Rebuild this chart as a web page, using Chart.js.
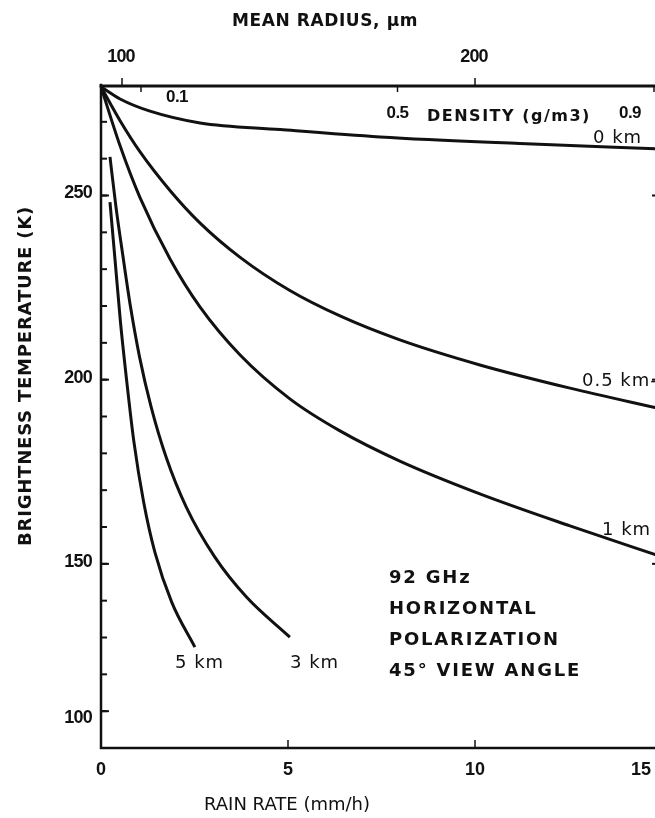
<!DOCTYPE html>
<html>
<head>
<meta charset="utf-8">
<script src="https://cdn.jsdelivr.net/npm/chart.js@4"></script>
<style>
  html, body { margin: 0; padding: 0; background: #fff; }
  #wrap { width: 655px; height: 818px; overflow: hidden; position: relative; }
  #chart { display: block; }
</style>
</head>
<body>
<div id="wrap"><canvas id="chart" width="700" height="818"></canvas></div>
<script>
// Rain rate (mm/h) and brightness temperature (K)
const km0Rain = [0, 0.51, 1.31, 2.65, 4.79, 7.46, 11.2, 15];
const km0Tb   = [279.5, 276.2, 272.9, 269.7, 267.9, 265.9, 264.1, 262.6];

const km05Rain = [0, 0.51, 1.04, 1.85, 2.65, 3.72, 5.05, 6.39, 7.99, 10.13, 12.54, 15];
const km05Tb   = [279.5, 270.3, 261.9, 251.3, 242.5, 233.2, 224.2, 217.3, 210.8, 204.0, 197.7, 192.0];

const km1Rain = [0, 0.51, 1.04, 1.85, 2.65, 3.72, 5.05, 6.39, 7.99, 10.13, 12.54, 15];
const km1Tb   = [279.5, 263.5, 249.5, 232.7, 219.7, 206.7, 194.8, 186.1, 177.9, 169.0, 160.3, 151.9];

const km3Rain = [0.24, 0.40, 0.59, 0.79, 1.03, 1.34, 1.74, 2.28, 3.04, 3.89, 5.05];
const km3Tb   = [260.5, 246.9, 233.3, 219.7, 206.2, 192.6, 179.0, 165.4, 151.9, 141.0, 130.1];

const km5Rain = [0.24, 0.38, 0.52, 0.69, 0.88, 1.14, 1.44, 1.89, 2.51];
const km5Tb   = [248.2, 232.0, 215.7, 199.4, 183.1, 166.8, 153.2, 139.6, 127.4];

// axis ticks
const rainTicks = [0, 5, 10, 15];
const rainTickLabels = ['0', '5', '10', '15'];
const tbTicks = [110, 150, 200, 250];          // the figure prints "100" on this tick
const tbTickLabels = ['100', '150', '200', '250'];
const radiusTicks = [100, 200];
const densityTicks = [0.1, 0.5, 0.9];
const densityTickLabels = ['0.1', '0.5', '0.9'];

function pts(xs, ys) {
    return xs.map((x, i) => ({ x: x, y: ys[i] }));
}

const NUM = '"Liberation Sans", Arial, sans-serif';
const WORD = '"DejaVu Sans", Verdana, sans-serif';
const INK = '#111';

const series = [
    { label: '0 km', data: pts(km0Rain, km0Tb) },
    { label: '0.5 km', data: pts(km05Rain, km05Tb) },
    { label: '1 km', data: pts(km1Rain, km1Tb) },
    { label: '3 km', data: pts(km3Rain, km3Tb) },
    { label: '5 km', data: pts(km5Rain, km5Tb) }
];

function text(ctx, str, x, y, font, align, spacing) {
    ctx.font = font;
    ctx.letterSpacing = (spacing || 0) + 'px';
    ctx.textAlign = align || 'left';
    ctx.textBaseline = 'middle';
    ctx.fillText(str, x, y);
}

// frame, ticks and all the labels of the old figure
const figurePlugin = {
    id: 'figure',
    afterDraw(chart) {
        const ctx = chart.ctx;
        const a = chart.chartArea;
        const x = chart.scales.x, y = chart.scales.y;
        const r = chart.scales.radius, d = chart.scales.density;
        const numFont = 'bold 18px ' + NUM;
        ctx.save();
        ctx.strokeStyle = INK;
        ctx.fillStyle = INK;
        ctx.lineCap = 'square';

        // frame
        ctx.lineWidth = 2.5;
        ctx.beginPath();
        ctx.moveTo(a.left, a.top);
        ctx.lineTo(a.left, a.bottom);
        ctx.lineTo(a.right, a.bottom);
        ctx.lineTo(a.right, a.top);
        ctx.stroke();
        ctx.lineWidth = 3;
        ctx.beginPath();
        ctx.moveTo(a.left, a.top + 1);
        ctx.lineTo(a.right, a.top + 1);
        ctx.stroke();

        // left minor ticks every 10 K, inward
        ctx.lineWidth = 2;
        ctx.lineCap = 'butt';
        for (let v = 110; v < 280; v += 10) {
            const py = y.getPixelForValue(v);
            ctx.beginPath();
            ctx.moveTo(a.left, py);
            ctx.lineTo(a.left + 6, py);
            ctx.stroke();
        }
        // right side ticks
        [150, 200, 250].forEach(v => {
            const py = y.getPixelForValue(v);
            ctx.beginPath();
            ctx.moveTo(a.right, py);
            ctx.lineTo(a.right - 10, py);
            ctx.stroke();
        });
        tbTicks.forEach((v, i) => {
            const py = y.getPixelForValue(v);
            ctx.beginPath();
            ctx.moveTo(a.left, py);
            ctx.lineTo(a.left + 8, py);
            ctx.stroke();
            text(ctx, tbTickLabels[i], a.left - 9, py + (v === 110 ? 7 : -2), numFont, 'right', -0.8);
        });

        // bottom ticks
        ctx.lineWidth = 1.5;
        rainTicks.forEach((v, i) => {
            const px = x.getPixelForValue(v);
            if (v > 0 && v < 15) {
                ctx.beginPath();
                ctx.moveTo(px, a.bottom);
                ctx.lineTo(px, a.bottom - 8);
                ctx.stroke();
            }
            const lx = Math.min(px, 641);
            text(ctx, rainTickLabels[i], lx, a.bottom + 22, numFont, 'center');
        });

        // top: mean radius ticks (up) and density ticks (down)
        radiusTicks.forEach(v => {
            const px = r.getPixelForValue(v);
            ctx.beginPath();
            ctx.moveTo(px, a.top);
            ctx.lineTo(px, a.top - 7);
            ctx.stroke();
            text(ctx, String(v), px - 1, a.top - 28, numFont, 'center', -0.8);
        });
        densityTicks.forEach(v => {
            const px = d.getPixelForValue(v);
            ctx.beginPath();
            ctx.moveTo(px, a.top);
            ctx.lineTo(px, a.top + 7);
            ctx.stroke();
        });
        const p01 = d.getPixelForValue(0.1), p05 = d.getPixelForValue(0.5);
        const densFont = 'bold 17px ' + NUM;
        text(ctx, densityTickLabels[0], p01 + 36, a.top + 12, densFont, 'center', -0.5);
        text(ctx, densityTickLabels[1], p05, a.top + 28, densFont, 'center', -0.5);
        text(ctx, 'DENSITY (g/m3)', 427, a.top + 32, 'bold 16px ' + WORD, 'left', 1.5);
        text(ctx, densityTickLabels[2], 630, a.top + 28, densFont, 'center', -0.5);

        // titles
        text(ctx, 'MEAN RADIUS, \u03bcm', 325, 22, 'bold 17px ' + WORD, 'center', 0.6);
        text(ctx, 'RAIN RATE (mm/h)', 287, 805, '18px ' + WORD, 'center');
        ctx.save();
        ctx.translate(26, 376);
        ctx.rotate(-Math.PI / 2);
        text(ctx, 'BRIGHTNESS TEMPERATURE (K)', 0, 0, 'bold 18px ' + WORD, 'center', 0.8);
        ctx.restore();

        // curve labels
        const kmFont = '18px ' + WORD;
        text(ctx, '0 km', 593, 138, kmFont, 'left', 1);
        text(ctx, '0.5 km-', 582, 381, kmFont, 'left', 1);
        text(ctx, '1 km', 602, 530, kmFont, 'left', 1);
        text(ctx, '5 km', 175, 663, kmFont, 'left', 1);
        text(ctx, '3 km', 290, 663, kmFont, 'left', 1);

        // condition block
        const lines = ['92 GHz', 'HORIZONTAL', 'POLARIZATION', '45\u00b0 VIEW ANGLE'];
        lines.forEach((s, i) => text(ctx, s, 389, 578 + i * 31, 'bold 18px ' + WORD, 'left', 1.8));

        ctx.restore();
    }
};

new Chart(document.getElementById('chart'), {
    type: 'line',
    data: {
        datasets: series.map(s => ({
            label: s.label,
            data: s.data,
            borderColor: INK,
            borderWidth: 3,
            pointRadius: 0,
            fill: false,
            cubicInterpolationMode: 'monotone'
        }))
    },
    options: {
        responsive: false,
        animation: false,
        layout: { padding: { left: 101, right: 38, top: 85, bottom: 70 } },
        plugins: { legend: { display: false }, tooltip: { enabled: false } },
        scales: {
            x: { type: 'linear', min: 0, max: 15, display: false },
            y: { type: 'linear', min: 100, max: 280, display: false },
            radius: { type: 'linear', axis: 'x', position: 'top', min: 94.05, max: 252.97, display: false },
            density: { type: 'linear', axis: 'x', position: 'top', min: 0.0376, max: 0.9125, display: false }
        }
    },
    plugins: [figurePlugin]
});
</script>
</body>
</html>
